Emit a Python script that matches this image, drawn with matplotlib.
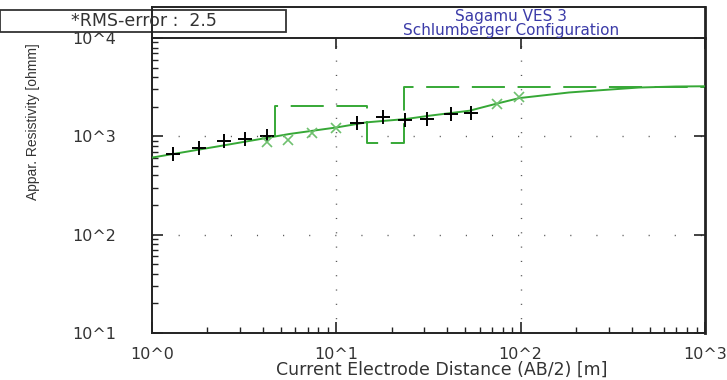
import numpy as np
import matplotlib
matplotlib.use("Agg")
import matplotlib.pyplot as plt
from matplotlib.ticker import LogLocator, FuncFormatter, NullFormatter
from matplotlib.patches import Rectangle
from matplotlib.lines import Line2D

# field data (AB/2 in m, apparent resistivity in ohm-m)
field_ab2 = [1.3, 1.8, 2.45, 3.2, 4.2, 12.9, 18.0, 23.7, 31.2, 42.0, 54.0]
field_rho = [668, 769, 893, 949, 1005, 1378, 1585, 1477, 1500, 1686, 1727]

# shifted / masked readings
shift_ab2 = [4.2, 5.5, 7.4, 10.0, 74.0, 98.0]
shift_rho = [873, 926, 1081, 1216, 2127, 2483]

# computed sounding curve for the fitted model
model_ab2 = [1.0, 2.33, 5.59, 10.1, 14.5, 23.9, 32.0, 52.7, 73.8, 98.3, 183, 244, 439, 693, 1000]
model_rho = [608, 796, 1058, 1234, 1386, 1501, 1621, 1821, 2145, 2449, 2792, 2904, 3137, 3211, 3230]

# layered model: resistivities and depths of the layer boundaries
layer_rho = [1000, 2046, 849, 3200]
layer_depth = [4.63, 14.6, 23.2]

rms_error = 2.5

W, H = 727, 380
fig = plt.figure(figsize=(W / 100, H / 100), dpi=100)
fig.patch.set_facecolor("white")

def fx(px):
    return px / W

def fy(py):
    return 1 - py / H

ax_l, ax_r, ax_t, ax_b = 152, 705, 38, 333
ax = fig.add_axes([fx(ax_l), fy(ax_b), fx(ax_r - ax_l), (ax_b - ax_t) / H])
ax.set_xscale("log")
ax.set_yscale("log")
ax.set_xlim(1, 1000)
ax.set_ylim(10, 10000)

green = "#36a836"

# dotted grid at the inner decades
for xv in [10, 100]:
    ax.plot([xv, xv], [10, 10000], color="#555555", lw=1.0,
            linestyle=(0, (0.8, 9.5)), zorder=1)
for yv in [100, 1000]:
    ax.plot([1, 1000], [yv, yv], color="#555555", lw=1.0,
            linestyle=(0, (0.8, 18)), zorder=1)

# step line of the layered model
step_x = [layer_depth[0]]
step_y = [layer_rho[0]]
for i, d in enumerate(layer_depth):
    step_x += [d, d]
    step_y += [layer_rho[i], layer_rho[i + 1]]
step_x.append(1000)
step_y.append(layer_rho[-1])
ax.plot(step_x[1:], step_y[1:], color=green, lw=1.4,
        linestyle=(0, (17, 6.5)), zorder=2)

ax.plot(model_ab2, model_rho, color=green, lw=1.4, zorder=3)
ax.plot(field_ab2, field_rho, linestyle="none", marker="+", color="black",
        markersize=10, markeredgewidth=1.4, zorder=4)
ax.plot(shift_ab2, shift_rho, linestyle="none", marker="x", color="#6fc06f",
        markersize=7, markeredgewidth=1.2, zorder=4)

# axes styling
for s in ax.spines.values():
    s.set_linewidth(1.4)
    s.set_color("#222222")
ax.spines["right"].set_linewidth(2.0)

fmt = FuncFormatter(lambda v, p: "10^%d" % round(np.log10(v)))
ax.xaxis.set_major_locator(LogLocator(base=10, numticks=10))
ax.yaxis.set_major_locator(LogLocator(base=10, numticks=10))
ax.xaxis.set_major_formatter(fmt)
ax.yaxis.set_major_formatter(fmt)
ax.xaxis.set_minor_locator(LogLocator(base=10, subs=np.arange(2, 10), numticks=20))
ax.yaxis.set_minor_locator(LogLocator(base=10, subs=np.arange(2, 10), numticks=20))
ax.xaxis.set_minor_formatter(NullFormatter())
ax.yaxis.set_minor_formatter(NullFormatter())

ax.tick_params(which="major", direction="in", length=8, width=1.2,
               top=True, right=True, color="#222222")
ax.tick_params(which="minor", direction="in", length=4, width=1.0,
               top=False, right=False, color="#222222")
ax.tick_params(axis="y", which="major", pad=26, labelsize=11.5, labelcolor="#333333")
ax.tick_params(axis="x", which="major", pad=10, labelsize=11.5, labelcolor="#333333")

# frame above the axes holding the title
fig.add_artist(Line2D([fx(ax_l), fx(ax_l)], [fy(7), fy(ax_t)], color="#222222", lw=1.4))
fig.add_artist(Line2D([fx(ax_r), fx(ax_r)], [fy(7), fy(ax_t)], color="#222222", lw=2.0))
fig.add_artist(Line2D([fx(ax_l), fx(ax_r)], [fy(7), fy(7)], color="#222222", lw=1.4))

fig.text(fx(511), fy(23.5), "Sagamu VES 3\nSchlumberger Configuration", ha="center",
         va="center", fontsize=11, linespacing=1.0, color="#3b3ba8")

# RMS box in the upper left corner
fig.add_artist(Rectangle((fx(0), fy(32)), fx(286), (32 - 10) / H,
                         facecolor="white", edgecolor="#333333", lw=1.3))
fig.text(fx(144), fy(21), "*RMS-error :  %.1f" % rms_error, ha="center", va="center",
         fontsize=12.5, color="#333333")

fig.text(fx(442), fy(370), "Current Electrode Distance (AB/2) [m]", ha="center",
         va="center", fontsize=12.5, color="#333333")
fig.text(fx(33), fy(122), "Appar. Resistivity [ohmm]", ha="center", va="center",
         rotation=90, fontsize=10, family="Liberation Sans", color="#333333")

fig.savefig("out.png", dpi=100)
